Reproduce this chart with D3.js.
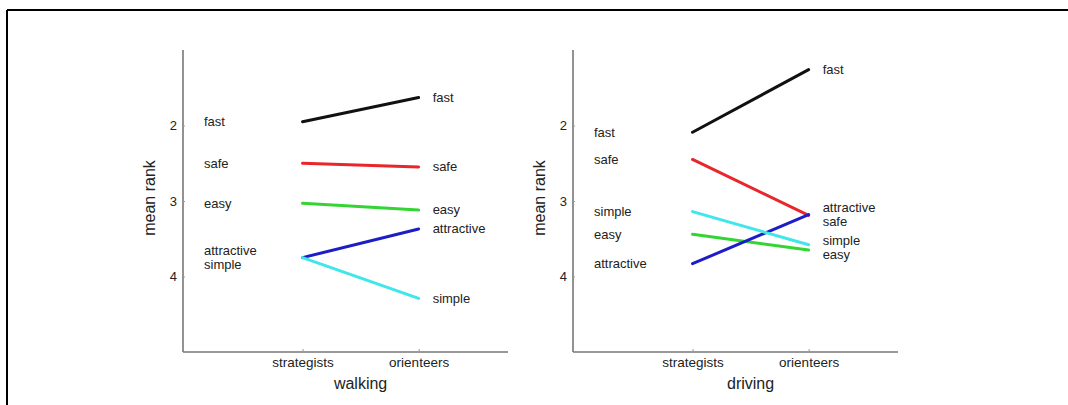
<!DOCTYPE html>
<html>
<head>
<meta charset="utf-8">
<script src="https://cdn.jsdelivr.net/npm/d3@7"></script>
<style>
  html, body { margin: 0; padding: 0; background: #fff; }
  svg { display: block; }
  text { font-family: "Liberation Sans", Arial, sans-serif; fill: #222; }
</style>
</head>
<body>
<svg id="chart" width="1068" height="405"></svg>
<script>
// Groups on the x axis and the attributes being ranked
const groups = ["strategists", "orienteers"];
const attributes = ["fast", "safe", "easy", "attractive", "simple"];
const attributeColors = ["#111111", "#e8262b", "#35d435", "#1d1dc8", "#3fe6ea"];

// Mean rank per attribute: [strategists, orienteers]
const walkingRanks = [
  [1.95, 1.63],  // fast
  [2.50, 2.55],  // safe
  [3.03, 3.12],  // easy
  [3.75, 3.37],  // attractive
  [3.75, 4.29]   // simple
];
const drivingRanks = [
  [2.09, 1.26],  // fast
  [2.45, 3.19],  // safe
  [3.44, 3.65],  // easy
  [3.83, 3.18],  // attractive
  [3.14, 3.58]   // simple
];

const panelTitles = ["walking", "driving"];
const yTicks = [2, 3, 4];
const yLabel = "mean rank";

const svg = d3.select("#chart");

// Frame border (top and left edges)
svg.append("line").attr("x1", 7).attr("x2", 1068).attr("y1", 10).attr("y2", 10)
  .attr("stroke", "#000").attr("stroke-width", 2);
svg.append("line").attr("x1", 7).attr("x2", 7).attr("y1", 10).attr("y2", 405)
  .attr("stroke", "#000").attr("stroke-width", 2);

// Spread labels that would overlap vertically, keeping each cluster centred
function spreadLabels(items, minGap) {
  const sorted = items.slice().sort((a, b) => a.y - b.y);
  const clusters = [];
  sorted.forEach(it => {
    clusters.push({ items: [it], center: it.y });
    let merged = true;
    while (merged && clusters.length > 1) {
      merged = false;
      const c = clusters[clusters.length - 1];
      const p = clusters[clusters.length - 2];
      const pBottom = p.center + (p.items.length - 1) * minGap / 2;
      const cTop = c.center - (c.items.length - 1) * minGap / 2;
      if (cTop - pBottom < minGap) {
        const all = p.items.concat(c.items);
        const mean = d3.mean(all, d => d.y);
        clusters.splice(clusters.length - 2, 2, { items: all, center: mean });
        merged = true;
      }
    }
  });
  clusters.forEach(c => {
    const start = c.center - (c.items.length - 1) * minGap / 2;
    c.items.forEach((it, i) => { it.ly = start + i * minGap; });
  });
  return items;
}

function drawPanel(offsetX, ranks, title) {
  const left = 183 + offsetX, right = 508 + offsetX;
  const top = 50, bottom = 352;

  const x = d3.scaleLinear().domain([-0.03, 2.77]).range([left, right]);
  const y = d3.scaleLinear().domain([1, 5]).range([top, bottom]);

  const g = svg.append("g");

  // Axes
  const yAxis = d3.axisLeft(y).tickValues(yTicks).tickSize(3).tickFormat(d3.format("d"));
  const ya = g.append("g").attr("transform", `translate(${left},0)`).call(yAxis);
  ya.select(".domain").attr("stroke", "#777").attr("stroke-width", 1.6)
    .attr("d", `M0,${top}V${bottom}`);
  ya.selectAll(".tick line").attr("stroke", "#999").attr("x2", 2);
  ya.selectAll(".tick text").attr("font-size", 13).attr("x", -6)
    .style("font-family", "Liberation Sans, Arial, sans-serif").attr("fill", "#333");

  const xAxis = d3.axisBottom(x).tickValues([1, 2]).tickSize(-3)
    .tickFormat(d => groups[d - 1]);
  const xa = g.append("g").attr("transform", `translate(0,${bottom})`).call(xAxis);
  xa.select(".domain").attr("stroke", "#777").attr("stroke-width", 1.6)
    .attr("d", `M${left},0H${right}`);
  xa.selectAll(".tick line").attr("stroke", "#999");
  xa.selectAll(".tick text").attr("font-size", 13.5).attr("y", 5)
    .style("font-family", "Liberation Sans, Arial, sans-serif").attr("fill", "#333");

  // Axis titles
  g.append("text")
    .attr("transform", `translate(${left - 28},${(top + bottom) / 2 - 3}) rotate(-90)`)
    .attr("text-anchor", "middle").attr("font-size", 16).text(yLabel);
  g.append("text")
    .attr("x", (x(1) + x(2)) / 2).attr("y", 389)
    .attr("text-anchor", "middle").attr("font-size", 16).text(title);

  // Lines between groups
  const line = d3.line().x((d, i) => x(i + 1)).y(d => y(d));
  g.selectAll("path.series")
    .data(ranks)
    .join("path")
    .attr("class", "series")
    .attr("d", d => line(d))
    .attr("fill", "none")
    .attr("stroke", (d, i) => attributeColors[i])
    .attr("stroke-width", 3)
    .attr("stroke-linecap", "round");

  // Attribute labels, left column (strategists) and right column (orienteers)
  const leftItems = spreadLabels(attributes.map((a, i) => ({ name: a, y: y(ranks[i][0]) })), 14);
  const rightItems = spreadLabels(attributes.map((a, i) => ({ name: a, y: y(ranks[i][1]) })), 14);

  g.selectAll("text.lbl-left").data(leftItems).join("text")
    .attr("class", "lbl-left")
    .attr("x", left + 21).attr("y", d => d.ly + 1)
    .attr("dominant-baseline", "middle").attr("font-size", 13)
    .text(d => d.name);

  g.selectAll("text.lbl-right").data(rightItems).join("text")
    .attr("class", "lbl-right")
    .attr("x", x(2) + 14).attr("y", d => d.ly + 1)
    .attr("dominant-baseline", "middle").attr("font-size", 13)
    .text(d => d.name);
}

drawPanel(0, walkingRanks, panelTitles[0]);
drawPanel(390, drivingRanks, panelTitles[1]);
</script>
</body>
</html>
